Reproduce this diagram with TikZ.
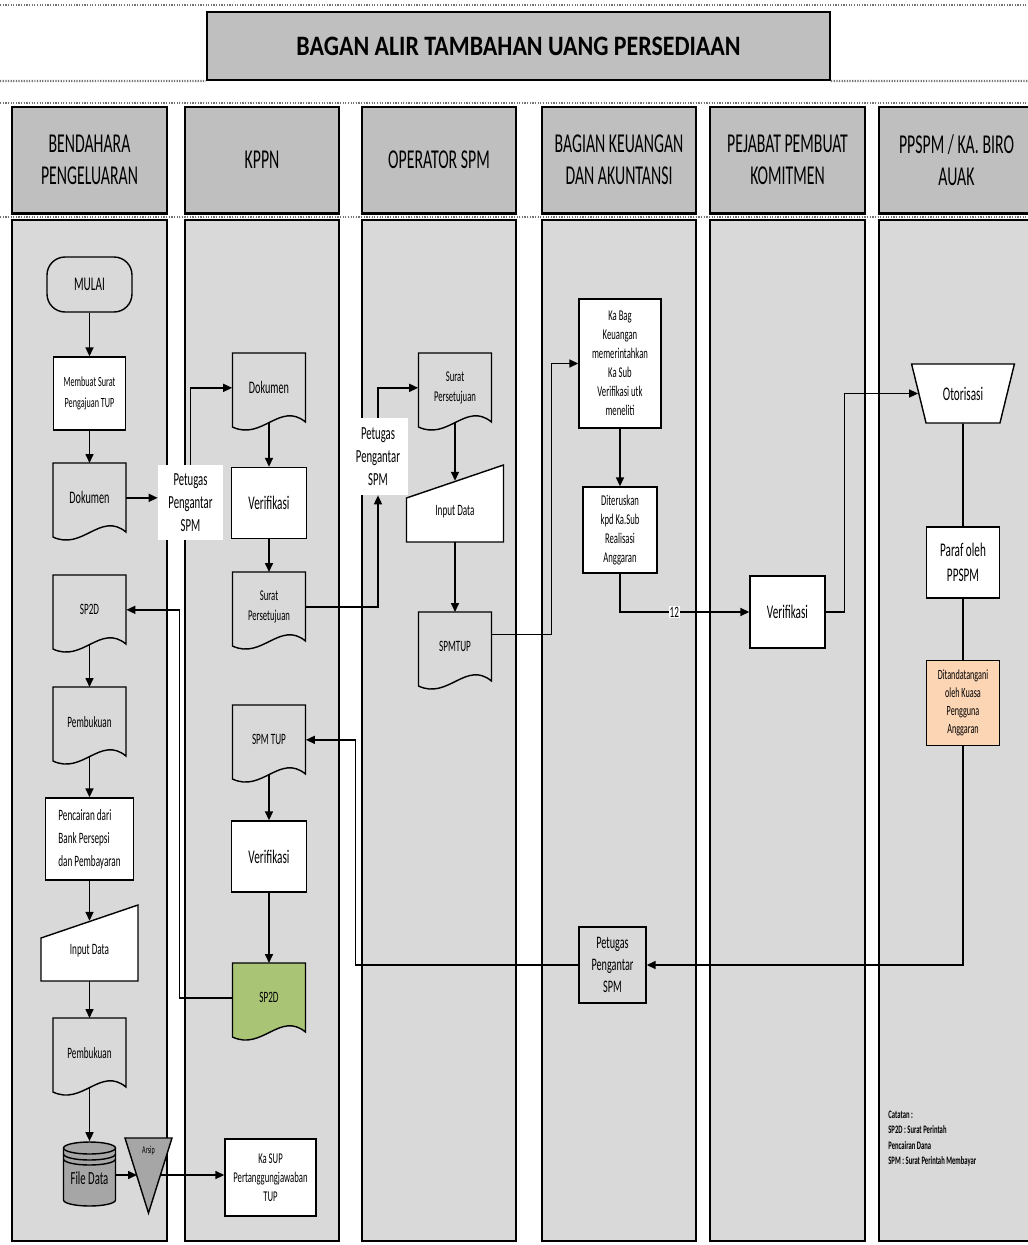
\documentclass[tikz,border=0pt]{standalone}
\usepackage{fontspec}
\setmainfont{Carlito}[FakeStretch=0.58]
\newfontfamily\titlefont{Carlito}[FakeStretch=0.85]
\usepackage{tikz}
\usetikzlibrary{arrows.meta,positioning,calc,shapes.geometric}
\definecolor{headgray}{RGB}{191,191,191}
\definecolor{lanegray}{RGB}{217,217,217}
\definecolor{filegray}{RGB}{166,166,166}
\definecolor{sp2dgreen}{RGB}{169,196,116}
\definecolor{ttdorange}{RGB}{252,213,180}
% document symbol: wavy bottom, named node over the upper part
\newcommand{\docnode}[6][lanegray]{%
  \filldraw[shapeline, fill=#1] ({#3-36.5},#4) -- ({#3+36.5},#4) -- ({#3+36.5},{#4+69})
    .. controls ({#3+11},{#4+48}) and ({#3-7},{#4+88}) .. ({#3-36.5},{#4+74}) -- cycle;
  \node[doctext, #5, anchor=north] (#2) at (#3,#4) {#6};
}
% manual input symbol: slanted top edge
\newcommand{\inputnode}[6]{%
  \filldraw[shapeline, fill=white] ({#2-48.5},{#3+33}) -- ({#2+48.5},#3) -- ({#2+48.5},#4) -- ({#2-48.5},#4) -- cycle;
  \node[inner sep=0pt, minimum width=1.94cm, minimum height={(#4-#3-16.5)*0.02cm}, anchor=south, #5] (#1) at (#2,#4) {#6};
}

\begin{document}
\begin{tikzpicture}[x=0.02cm, y=-0.02cm, font=\fontsize{9}{11}\selectfont,
  lane/.style={draw=black, line width=0.8pt, fill=lanegray},
  head/.style={draw=black, line width=0.8pt, fill=headgray, align=center, inner sep=0pt,
    font=\fontsize{15.5}{18}\selectfont},
  sep/.style={line width=1.3pt, dash pattern=on 0.7pt off 0.8pt, black!55},
  shapeline/.style={draw=black, line width=0.8pt},
  box/.style={draw=black, line width=0.8pt, fill=white, align=center, inner sep=1pt},
  doctext/.style={align=center, inner sep=0pt, minimum width=1.46cm, minimum height=1.38cm},
  carrier/.style={fill=white, align=center, inner sep=1pt, minimum width=1.3cm, font=\fontsize{10.5}{13}\selectfont},
  small/.style={font=\fontsize{8.5}{10.8}\selectfont},
  big/.style={font=\fontsize{11}{14}\selectfont},
  arr/.style={line width=0.9pt, -{Triangle[length=1.8mm,width=1.6mm]}},
  link/.style={line width=0.9pt}]

\useasboundingbox (0,0) rectangle (1028,1245);
\fill[white] (0,0) rectangle (1028,1245);

% ===== title and separators =====
\draw[sep] (0,5) -- (1028,5);
\node[draw, line width=1.2pt, fill=headgray, minimum width=12.46cm, minimum height=1.36cm,
  font=\titlefont\bfseries\fontsize{16}{19}\selectfont] (title) at (518.5,46) {BAGAN ALIR TAMBAHAN UANG PERSEDIAAN};
\draw[sep] (0,81) -- (title.south west);
\draw[sep] (title.south east) -- (1028,81);
\draw[sep] (0,103) -- (1028,103);
\draw[sep] (0,217) -- (1028,217);

% ===== swim lanes =====
\foreach \xa/\xb/\txt [count=\i] in {12/167/{BENDAHARA\\PENGELUARAN}, 185/339/{KPPN}, 362/516/{OPERATOR SPM},
    542/696/{BAGIAN KEUANGAN\\DAN AKUNTANSI}, 710/865/{PEJABAT PEMBUAT\\KOMITMEN}, 879/1034/{PPSPM / KA. BIRO\\AUAK}} {
  \node[head, minimum width={(\xb-\xa)*0.02cm}, minimum height=2.12cm] (head\i) at ({(\xa+\xb)/2},160) {\txt};
  \draw[line width=1.6pt] (head\i.south west) -- (head\i.south east);
  \draw[lane] (\xa,220) rectangle (\xb,1241);
}

% ============ LANE 1: Bendahara Pengeluaran ============
\node[shapeline, rounded corners=0.36cm, fill=lanegray, minimum width=1.7cm, minimum height=1.1cm, big] (mulai) at (89.5,284.5) {MULAI};
\node[box, minimum width=1.44cm, minimum height=1.46cm, font=\fontsize{8}{12}\selectfont] (surat) at (89.5,393.5) {Membuat Surat\\Pengajuan TUP};
\docnode{dok1}{89.5}{463}{font=\fontsize{10}{12}\selectfont}{Dokumen}
\docnode{sp2d1}{89.5}{575}{}{SP2D}
\docnode{pemb1}{89.5}{687}{}{Pembukuan}
\node[box, align=left, minimum width=1.76cm, minimum height=1.64cm, font=\fontsize{9}{13}\selectfont] (cair) at (89.5,839) {Pencairan dari\\Bank Persepsi\\dan Pembayaran};
\inputnode{inp1}{89.5}{905}{981}{}{Input Data}
\docnode{pemb2}{89.5}{1018}{}{Pembukuan}
\filldraw[shapeline, fill=filegray] (63.5,1148) -- (63.5,1200) arc[start angle=180, end angle=360, x radius=0.52cm, y radius=0.12cm]
  -- (115.5,1148) arc[start angle=0, end angle=180, x radius=0.52cm, y radius=0.12cm] -- cycle;
\foreach \yy in {1148,1154,1159}
  \draw[shapeline] (63.5,\yy) arc[start angle=180, end angle=360, x radius=0.52cm, y radius=0.12cm];
\node[inner sep=0pt, minimum width=1.04cm, minimum height=1.46cm, font=\fontsize{10.5}{12}\selectfont] (file) at (89.5,1178) {File Data};
\filldraw[shapeline, fill=filegray] (125,1138) -- (172,1138) -- (148.5,1213) -- cycle;
\node[font=\fontsize{6}{7}\selectfont] (arsip) at (148.5,1151) {Arsip};
\coordinate (arsipL) at (137,1175);
\coordinate (arsipR) at (160,1175);

\draw[arr] (mulai) -- (surat);
\draw[arr] (surat) -- (dok1);
\draw[arr] (sp2d1) -- (pemb1);
\draw[arr] (pemb1) -- (cair);
\draw[arr] (cair) -- (inp1);
\draw[arr] (inp1) -- (pemb2);
\draw[arr] (pemb2) -- (file);
\draw[arr] (file.east |- arsipL) -- (arsipL);

% ============ LANE 2: KPPN ============
\docnode{dok2}{269}{353}{font=\fontsize{10}{12}\selectfont}{Dokumen}
\node[box, minimum width=1.5cm, minimum height=1.42cm, big] (verif2) at (269,503) {Verifikasi};
\docnode{surper2}{269}{572}{font=\fontsize{8.5}{11}\selectfont}{Surat\\Persetujuan}
\docnode{spm2}{269}{705}{}{SPM TUP}
\node[box, minimum width=1.5cm, minimum height=1.42cm, big] (verif2b) at (269,856.5) {Verifikasi};
\docnode[sp2dgreen]{sp2dg}{269}{963}{}{SP2D}
\node[box, small, minimum width=1.82cm, minimum height=1.54cm] (kasup) at (270.5,1177.5) {Ka SUP\\Pertanggungjawaban\\TUP};

\draw[arr] (dok2) -- (verif2);
\draw[arr] (verif2) -- (surper2);
\draw[arr] (spm2) -- (verif2b);
\draw[arr] (verif2b) -- (sp2dg);
\draw[arr] (arsipR) -- (arsipR -| kasup.west);

% carriers between the lanes
\node[carrier, minimum height=1.5cm] (pet1) at (190.5,502.5) {Petugas\\Pengantar\\SPM};
\node[carrier, minimum height=1.54cm, minimum width=1.2cm] (pet2) at (378,456.5) {Petugas\\Pengantar\\SPM};
\draw[arr] (dok1.east) -- (dok1.east -| pet1.west);
\draw[arr] (pet1.north) |- (dok2.west);
\draw[arr] (surper2.east) -| (pet2.south);

% ============ LANE 3: Operator SPM ============
\docnode{surper3}{455}{353}{font=\fontsize{8.5}{11}\selectfont}{Surat\\Persetujuan}
\inputnode{inp3}{455}{465}{542}{}{Input Data}
\docnode{spmtup}{455}{612}{}{SPMTUP}

\draw[arr] (pet2.north) |- (surper3.west);
\draw[arr] (surper3) -- (inp3);
\draw[arr] (inp3) -- (spmtup);

% ============ LANE 4: Bagian Keuangan ============
\node[box, small, minimum width=1.64cm, minimum height=2.58cm] (kabag) at (620,363.5) {Ka Bag\\Keuangan\\memerintahkan\\Ka Sub\\Verifikasi utk\\meneliti};
\node[box, small, minimum width=1.48cm, minimum height=1.72cm] (diter) at (620,530) {Diteruskan\\kpd Ka.Sub\\Realisasi\\Anggaran};
\node[box, fill=lanegray, minimum width=1.34cm, minimum height=1.52cm, font=\fontsize{10}{12.5}\selectfont] (pet4) at (612.5,965) {Petugas\\Pengantar\\SPM};

\draw[arr] ([yshift=0.25cm]spmtup.east) -| ([xshift=-0.54cm]kabag.west) -- (kabag.west);
\draw[arr] (kabag) -- (diter);

% ============ LANE 5: Pejabat Pembuat Komitmen ============
\node[box, minimum width=1.5cm, minimum height=1.44cm, big] (verif5) at (787.5,612) {Verifikasi};
\draw[arr] (diter.south) |- node[pos=0.71, fill=white, inner sep=0.5pt] (nomor) {12} (verif5.west);

% ============ LANE 6: PPSPM / Ka. Biro AUAK ============
\node[shapeline, fill=white, trapezium, trapezium stretches=true, shape border rotate=180,
  trapezium left angle=68, trapezium right angle=68, minimum width=2.06cm, minimum height=1.18cm, big] (otor) at (963,393.5) {Otorisasi};
\node[box, big, minimum width=1.46cm, minimum height=1.42cm] (paraf) at (963,562.5) {Paraf oleh\\PPSPM};
\node[box, fill=ttdorange, minimum width=1.46cm, minimum height=1.7cm, font=\fontsize{8}{10.2}\selectfont] (ttd) at (963,703) {Ditandatangani\\oleh Kuasa\\Pengguna\\Anggaran};
\node[anchor=north west, align=left, inner sep=0pt, font=\bfseries\fontsize{6.5}{8.6}\selectfont] (catatan) at (888,1111)
  {Catatan :\\SP2D : Surat Perintah\\Pencairan Dana\\SPM : Surat Perintah Membayar};

\draw[arr] (verif5.east) -- ++(19,0) |- (otor.west);
\draw[link] (otor) -- (paraf);
\draw[link] (paraf) -- (ttd);
\draw[arr] (ttd.south) |- (pet4.east);

% return flow
\draw[arr] (pet4.west) -| ([xshift=0.99cm]spm2.east) -- (spm2.east);
\draw[arr] (sp2dg.west) -| ([xshift=1.06cm]sp2d1.east) -- (sp2d1.east);

\end{tikzpicture}
\end{document}
